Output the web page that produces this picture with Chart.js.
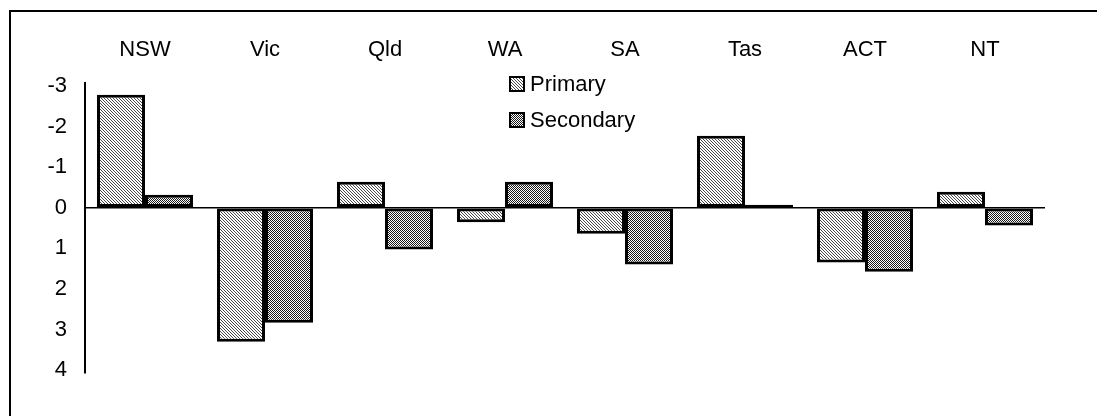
<!DOCTYPE html>
<html>
<head>
<meta charset="utf-8">
<script src="https://cdn.jsdelivr.net/npm/chart.js@4/dist/chart.umd.min.js"></script>
<style>
  html, body { margin: 0; padding: 0; background: #fff; overflow: hidden; width: 1097px; height: 416px; }
  #frame { position: absolute; left: 9px; top: 10px; width: 1300px; height: 600px; border: 2px solid #000; }
  #wrap { position: absolute; left: 0; top: 0; width: 1097px; height: 416px; }
</style>
</head>
<body>
<div id="frame"></div>
<div id="wrap"><canvas id="chart" width="1097" height="416"></canvas></div>
<script>
const states = ['NSW', 'Vic', 'Qld', 'WA', 'SA', 'Tas', 'ACT', 'NT'];
const primary = [-2.78, 3.30, -0.64, 0.36, 0.64, -1.77, 1.35, -0.39];
const secondary = [-0.32, 2.83, 1.03, -0.64, 1.40, -0.07, 1.58, 0.44];
const yTicks = [-3, -2, -1, 0, 1, 2, 3, 4];

function makePattern(type) {
    const c = document.createElement('canvas');
    const g = c.getContext('2d');
    if (type === 'diag') {
        c.width = 3; c.height = 3;
        g.fillStyle = '#fff';
        g.fillRect(0, 0, 3, 3);
        g.fillStyle = '#4a4a4a';
        for (let i = 0; i < 3; i++) g.fillRect(i, i, 1, 1);
    } else {
        c.width = 2; c.height = 2;
        g.fillStyle = '#fff';
        g.fillRect(0, 0, 2, 2);
        g.fillStyle = '#1a1a1a';
        g.fillRect(0, 0, 1, 1);
        g.fillRect(1, 1, 1, 1);
    }
    return g.createPattern(c, 'repeat');
}

const ctx = document.getElementById('chart').getContext('2d');
const fillPrimary = makePattern('diag');
const fillSecondary = makePattern('dots');

// legend sits inside the plot, so draw it by hand
const innerLegend = {
    id: 'innerLegend',
    afterDraw(chart) {
        const c = chart.ctx;
        const rows = chart.data.datasets;
        c.save();
        c.font = '22px "Liberation Sans", Arial, sans-serif';
        c.textBaseline = 'middle';
        rows.forEach((ds, i) => {
            const y = 84 + i * 36;
            c.fillStyle = ds.backgroundColor;
            c.fillRect(510, y - 7, 14, 14);
            c.lineWidth = 2;
            c.strokeStyle = '#000';
            c.strokeRect(510, y - 7, 14, 14);
            c.fillStyle = '#000';
            c.fillText(ds.label, 530, y + 1);
        });
        c.restore();
    }
};

Chart.defaults.font.family = '"Liberation Sans", Arial, sans-serif';
Chart.defaults.font.size = 22;
Chart.defaults.color = '#000';

new Chart(ctx, {
    type: 'bar',
    data: {
        labels: states,
        datasets: [
            {
                label: 'Primary',
                data: primary,
                backgroundColor: fillPrimary,
                borderColor: '#000',
                borderWidth: 3,
                borderSkipped: false,
                barPercentage: 1.0,
                categoryPercentage: 0.8
            },
            {
                label: 'Secondary',
                data: secondary,
                backgroundColor: fillSecondary,
                borderColor: '#000',
                borderWidth: 3,
                borderSkipped: false,
                barPercentage: 1.0,
                categoryPercentage: 0.8
            }
        ]
    },
    options: {
        responsive: false,
        animation: false,
        layout: { padding: { top: 0, left: 0, right: 52, bottom: 43 } },
        plugins: {
            legend: { display: false },
            tooltip: { enabled: false }
        },
        scales: {
            x: {
                position: 'top',
                grid: { display: false, drawTicks: false },
                border: { display: false },
                ticks: { padding: 20, maxRotation: 0 },
                afterFit: s => { s.height = 83; }
            },
            y: {
                reverse: true,
                min: -3.07,
                max: 4.07,
                afterBuildTicks: s => { s.ticks = yTicks.map(v => ({ value: v })); },
                afterFit: s => { s.width = 85; },
                ticks: { padding: 18, callback: v => String(v) },
                grid: {
                    drawTicks: false,
                    color: c => (c.tick && c.tick.value === 0 ? '#000' : 'rgba(0,0,0,0)'),
                    lineWidth: 1.5
                },
                border: { display: true, color: '#000', width: 2 }
            }
        }
    },
    plugins: [innerLegend]
});
</script>
</body>
</html>
